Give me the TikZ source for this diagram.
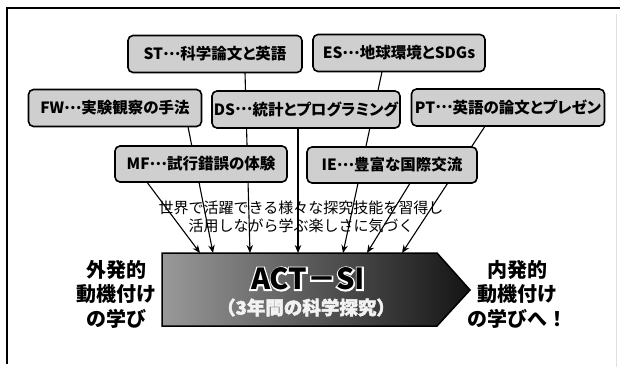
\documentclass[tikz,border=0pt]{standalone}
\usepackage{fontspec}
\setmainfont{Noto Sans CJK JP}
\usetikzlibrary{arrows.meta,calc}
\definecolor{boxgray}{HTML}{CFCFCF}
\definecolor{subgray}{HTML}{F2F2F2}
\newcommand\jpdots{\raisebox{0.3em}{…}}
\tikzset{
  box/.style={draw=black, line width=1.6pt, rounded corners=5pt, fill=boxgray,
    font=\bfseries\fontsize{15.5}{18}\selectfont\addfontfeature{RawFeature=+palt},
    minimum height=37pt, inner sep=0pt},
  ghost/.style={draw=none, fill=none, minimum height=37pt, inner sep=0pt},
  conn/.style={line width=1.1pt, -{Stealth[length=8pt,width=6.5pt]}},
  bigtext/.style={font=\bfseries\fontsize{29}{32}\selectfont, inner sep=0pt},
  bighalo/.style={font=\bfseries\fontsize{29}{32}\selectfont\addfontfeature{FakeBold=10}, inner sep=0pt, text=white},
  subtext/.style={font=\bfseries\fontsize{18.5}{20}\selectfont\addfontfeature{FakeBold=2.5}, inner sep=0pt, text=subgray},
  sidetext/.style={font=\bfseries\fontsize{20}{24.5}\selectfont, align=center, inner sep=0pt},
}
\begin{document}
\begin{tikzpicture}[x=1pt,y=-1pt]
\useasboundingbox (0,0) rectangle (620,367);
\fill[white] (0,0) rectangle (620,367);
% frame
\draw[line width=2.5pt] (7,364) -- (7,8) -- (620,8);
\draw[black!12, line width=1pt] (616,14) -- (616,367);

% main arrow shape
\shade[left color=black!40, right color=black!92, draw=black, line width=1.5pt]
  (162,253) -- (437,253) -- (470,290) -- (437,326) -- (162,326) -- cycle;
\coordinate (ACT) at (308,279);
\coordinate (SUB) at (306,307.5);

% arrow end points on the top edge
\coordinate (a1) at (200,253);
\coordinate (a2) at (213,253);
\coordinate (a3) at (250,253);
\coordinate (a4) at (298,253);
\coordinate (a5) at (343,253);
\coordinate (a6) at (367,253);
\coordinate (a7) at (402,253);

% box positions (drawn visibly later, on top of the connectors)
\node[ghost, minimum width=174pt] (ST) at (215,54) {};
\node[ghost, minimum width=172pt] (ES) at (399,53) {};
\node[ghost, minimum width=173pt] (FW) at (115,108) {};
\node[ghost, minimum width=188pt] (DS) at (306,109.5) {};
\node[ghost, minimum width=193pt] (PT) at (508,107.5) {};
\node[ghost, minimum width=172pt, minimum height=36pt] (MF) at (201,164) {};
\node[ghost, minimum width=170pt, minimum height=36pt] (IE) at (392,165) {};

% connectors
\draw[conn] ([xshift=-54pt]MF.south) -- (a1);
\draw[conn] ([xshift=73pt]FW.south) -- (a2);
\draw[conn] ([xshift=30pt]ST.south) -- (a3);
\draw[conn] ([xshift=-8pt]DS.south) -- (a4);
\draw[conn] ([xshift=-17pt]ES.south) -- (a5);
\draw[conn] ([xshift=18pt]IE.south) -- (a6);
\draw[conn] ([xshift=-23pt]PT.south) -- (a7);

% middle text
\node[font=\fontsize{15}{17.5}\selectfont, align=center, inner sep=0pt] (mid) at (301,217)
  {世界で活躍できる様々な探究技能を習得し\\活用しながら学ぶ楽しさに気づく};

% visible boxes
\node[box, minimum width=174pt] (STv) at (ST) {ST\jpdots 科学論文と英語};
\node[box, minimum width=172pt] (ESv) at (ES) {ES\jpdots 地球環境とSDGs};
\node[box, minimum width=173pt] (FWv) at (FW) {FW\jpdots 実験観察の手法};
\node[box, minimum width=188pt] (DSv) at (DS) {DS\jpdots 統計とプログラミング};
\node[box, minimum width=193pt] (PTv) at (PT) {PT\jpdots 英語の論文とプレゼン};
\node[box, minimum width=172pt, minimum height=36pt] (MFv) at (MF) {MF\jpdots 試行錯誤の体験};
\node[box, minimum width=170pt, minimum height=36pt] (IEv) at (IE) {IE\jpdots 豊富な国際交流};

% title with white halo, subtitle in light text
\node[bighalo] (titlehalo) at (ACT) {ACT－SI};
\node[bigtext] (title) at (ACT) {ACT－SI};
\node[subtext] (subtitle) at (SUB) {（3年間の科学探究）};

% side labels
\node[sidetext] (left) at (116,294) {外発的\\動機付け\\の学び};
\node[sidetext] (right) at (517,294) {内発的\\動機付け\\の学びへ！};
\end{tikzpicture}
\end{document}
